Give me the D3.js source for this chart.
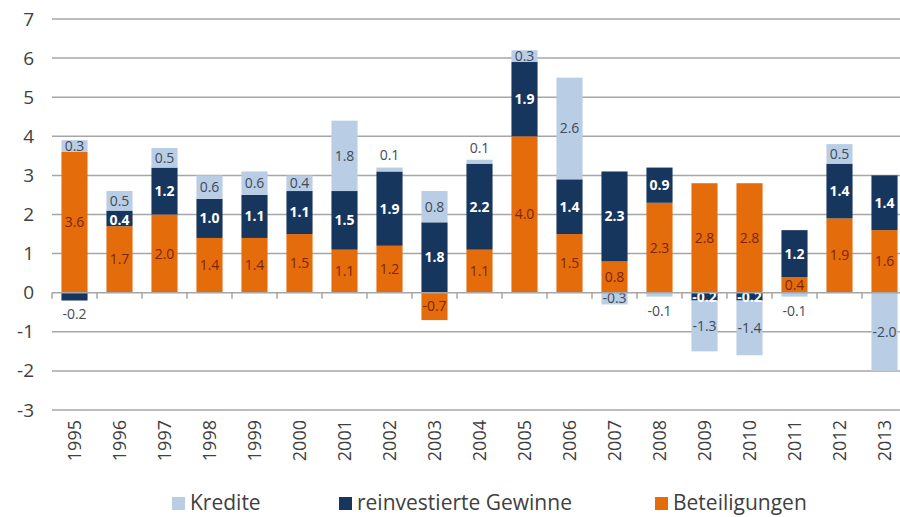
<!DOCTYPE html>
<html>
<head>
<meta charset="utf-8">
<script src="https://cdn.jsdelivr.net/npm/d3@7"></script>
<style>
  body { margin: 0; background: #fff; }
  svg { font-family: "Open Sans", sans-serif; }
</style>
</head>
<body>
<svg width="900" height="517"></svg>
<script>
var years = ["1995","1996","1997","1998","1999","2000","2001","2002","2003","2004",
             "2005","2006","2007","2008","2009","2010","2011","2012","2013"];
var beteiligungen = [3.6, 1.7, 2.0, 1.4, 1.4, 1.5, 1.1, 1.2, -0.7, 1.1, 4.0, 1.5, 0.8, 2.3, 2.8, 2.8, 0.4, 1.9, 1.6];
var gewinne       = [-0.2, 0.4, 1.2, 1.0, 1.1, 1.1, 1.5, 1.9, 1.8, 2.2, 1.9, 1.4, 2.3, 0.9, -0.2, -0.2, 1.2, 1.4, 1.4];
var kredite       = [0.3, 0.5, 0.5, 0.6, 0.6, 0.4, 1.8, 0.1, 0.8, 0.1, 0.3, 2.6, -0.3, -0.1, -1.3, -1.4, -0.1, 0.5, -2.0];
var yTicks = [-3, -2, -1, 0, 1, 2, 3, 4, 5, 6, 7];

var series = [
    {key: "bet", name: "Beteiligungen", values: beteiligungen, color: "#e46c0a", text: "#7d240a", weight: "normal"},
    {key: "gew", name: "reinvestierte Gewinne", values: gewinne, color: "#17365d", text: "#ffffff", weight: "bold"},
    {key: "kre", name: "Kredite", values: kredite, color: "#b9cde5", text: "#3f4b5a", weight: "normal"}
];

let rows = years.map(function(y, i) {
    let r = {year: y};
    series.forEach(function(s) { r[s.key] = s.values[i]; });
    return r;
});

let svg = d3.select("svg");

let x = d3.scaleBand()
    .domain(years)
    .range([52, 907])
    .paddingInner(0.42)
    .paddingOuter(0.21);

let y = d3.scaleLinear()
    .domain([-3, 7])
    .range([410, 19]);

// gridlines (not at zero, the axis goes there)
svg.append("g").attr("id", "grid")
    .selectAll("line")
    .data(yTicks.filter(function(t) { return t !== 0; }))
    .enter().append("line")
    .attr("x1", 52).attr("x2", 900)
    .attr("y1", function(d) { return y(d); })
    .attr("y2", function(d) { return y(d); })
    .attr("stroke", "#a6a6a6")
    .attr("stroke-width", 1.5);

let stack = d3.stack()
    .keys(series.map(function(s) { return s.key; }))
    .offset(d3.stackOffsetDiverging);
let stacked = stack(rows);

let plot = svg.append("g").attr("id", "plot");

stacked.forEach(function(layer, li) {
    let s = series[li];
    plot.append("g")
        .selectAll("rect")
        .data(layer)
        .enter().append("rect")
        .attr("x", function(d) { return x(d.data.year); })
        .attr("width", x.bandwidth())
        .attr("y", function(d) { return y(Math.max(d[0], d[1])); })
        .attr("height", function(d) { return Math.abs(y(d[0]) - y(d[1])); })
        .attr("fill", s.color);
});

// y axis labels, plain hyphen for minus like the original
let yAxis = d3.axisLeft(y).tickValues(yTicks).tickSize(0).tickPadding(0)
    .tickFormat(function(d) { return String(d); });
let yGroup = svg.append("g").attr("id", "y-axis").attr("transform", "translate(34,0)").call(yAxis);
yGroup.select(".domain").remove();
yGroup.selectAll("text")
    .attr("font-size", "19px")
    .attr("font-family", "Open Sans, sans-serif")
    .attr("fill", "#404040");

// zero line with ticks between categories
svg.append("line")
    .attr("x1", 52).attr("x2", 900)
    .attr("y1", y(0)).attr("y2", y(0))
    .attr("stroke", "#a6a6a6").attr("stroke-width", 1.5);

svg.append("g").selectAll("line")
    .data(d3.range(years.length + 1))
    .enter().append("line")
    .attr("x1", function(i) { return 52 + i * x.step(); })
    .attr("x2", function(i) { return 52 + i * x.step(); })
    .attr("y1", y(0)).attr("y2", y(0) + 6)
    .attr("stroke", "#a6a6a6").attr("stroke-width", 1.5);

// small outermost segments get their label outside the bar
function isOutside(d, li) {
    let v = d.data[series[li].key];
    let outer = true;
    for (let k = li + 1; k < series.length; k++) {
        let w = d.data[series[k].key];
        if ((w > 0) === (v > 0)) outer = false;
    }
    return outer && Math.abs(v) < 0.25;
}

stacked.forEach(function(layer, li) {
    let s = series[li];
    plot.append("g")
        .selectAll("text")
        .data(layer)
        .enter().append("text")
        .attr("x", function(d) { return x(d.data.year) + x.bandwidth() / 2; })
        .attr("y", function(d) {
            let v = d.data[s.key];
            if (isOutside(d, li)) {
                let end = v > 0 ? Math.max(d[0], d[1]) : Math.min(d[0], d[1]);
                return v > 0 ? y(end) - 12 : y(end) + 14;
            }
            // thin positive navy segment (1996): nudge label down, away from the 0.5 above
            if (li === 1 && v > 0 && v < 0.45) return y((d[0] + d[1]) / 2) + 2;
            return y((d[0] + d[1]) / 2);
        })
        .attr("dy", "0.35em")
        .attr("text-anchor", "middle")
        .attr("font-size", "14px")
        .attr("font-weight", function(d) { return isOutside(d, li) ? "normal" : s.weight; })
        .attr("fill", function(d) { return isOutside(d, li) ? "#3f4b5a" : s.text; })
        .text(function(d) { return d.data[s.key].toFixed(1); });
});

// x labels, rotated
svg.append("g").attr("id", "x-axis")
    .selectAll("text")
    .data(years)
    .enter().append("text")
    .attr("transform", function(d) {
        return "translate(" + (x(d) + x.bandwidth() / 2) + ",420) rotate(-90)";
    })
    .attr("dy", "0.35em")
    .attr("text-anchor", "end")
    .attr("font-size", "18px")
    .attr("fill", "#404040")
    .text(function(d) { return d; });

// legend
let legendItems = [
    {name: "Kredite", color: "#b9cde5", x: 172},
    {name: "reinvestierte Gewinne", color: "#17365d", x: 339},
    {name: "Beteiligungen", color: "#e46c0a", x: 655}
];
let legend = svg.append("g").attr("id", "legend");
legendItems.forEach(function(l) {
    legend.append("rect")
        .attr("x", l.x).attr("y", 497)
        .attr("width", 13).attr("height", 13)
        .attr("fill", l.color);
    legend.append("text")
        .attr("x", l.x + 18).attr("y", 503)
        .attr("dy", "0.35em")
        .attr("font-size", "21px")
        .attr("fill", "#404040")
        .text(l.name);
});
</script>
</body>
</html>
